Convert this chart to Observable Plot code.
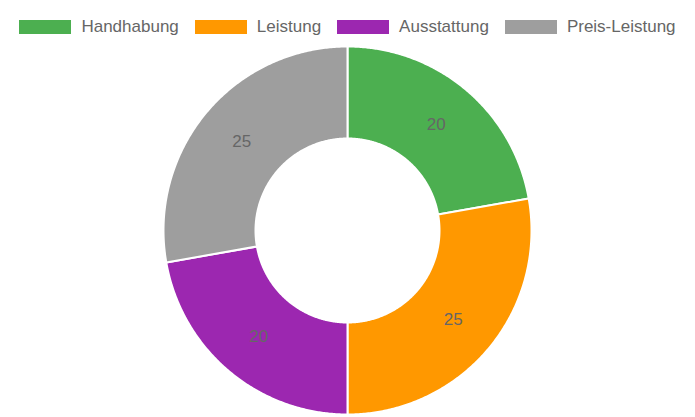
<!DOCTYPE html>
<html>
<head>
<meta charset="utf-8">
<script src="https://cdn.jsdelivr.net/npm/d3@7"></script>
<script src="https://cdn.jsdelivr.net/npm/@observablehq/plot@0.6"></script>
<style>
  html, body { margin: 0; padding: 0; background: #fff; }
  body { width: 695px; height: 417px; overflow: hidden; font-family: "Liberation Sans", Arial, sans-serif; }
  #legend { height: 40px; box-sizing: border-box; padding-top: 13px; display: flex; justify-content: center; align-items: center; }
  .item { display: flex; align-items: center; margin: 0 8px; color: #666; font-size: 17px; line-height: 18px; }
  .sw { width: 52px; height: 14px; margin-right: 10px; }
  #chart svg { display: block; }
</style>
</head>
<body>
<div id="legend"></div>
<div id="chart"></div>
<script>
const categories = ["Handhabung", "Leistung", "Ausstattung", "Preis-Leistung"];
const values = [20, 25, 20, 25];
const colors = ["#4caf50", "#ff9800", "#9c27b0", "#9e9e9e"];

const innerRatio = 0.5;

// legend
const legend = document.getElementById("legend");
categories.forEach((c, i) => {
  const it = document.createElement("div");
  it.className = "item";
  const sw = document.createElement("span");
  sw.className = "sw";
  sw.style.background = colors[i];
  const t = document.createElement("span");
  t.textContent = c;
  it.appendChild(sw); it.appendChild(t);
  legend.appendChild(it);
});

// slices from d3.pie
const pie = d3.pie().sort(null).value(d => d.value).startAngle(0).endAngle(2 * Math.PI);
const table = categories.map((k, i) => ({key: k, value: values[i]}));
const arcs = pie(table);

const outline = [];
const labels = [];
arcs.forEach(a => {
  const n = 200;
  for (let j = 0; j <= n; j++) {
    const t = a.startAngle + (a.endAngle - a.startAngle) * j / n;
    outline.push({key: a.data.key, x: Math.sin(t), y: Math.cos(t)});
  }
  for (let j = n; j >= 0; j--) {
    const t = a.startAngle + (a.endAngle - a.startAngle) * j / n;
    outline.push({key: a.data.key, x: innerRatio * Math.sin(t), y: innerRatio * Math.cos(t)});
  }
  const m = (a.startAngle + a.endAngle) / 2;
  const r = (1 + innerRatio) / 2;
  labels.push({key: a.data.key, value: a.data.value, x: r * Math.sin(m), y: r * Math.cos(m)});
});

const chart = Plot.plot({
  width: 695,
  height: 377,
  margin: 0,
  style: {background: "#fff", fontFamily: "Liberation Sans, Arial, sans-serif"},
  x: {domain: [-1, 1], range: [163, 531], axis: null},
  y: {domain: [-1, 1], range: [374, 6], axis: null},
  color: {domain: categories, range: colors},
  marks: [
    Plot.line(outline, {x: "x", y: "y", z: "key", fill: "key", stroke: "#fff", strokeWidth: 2, curve: "linear-closed"}),
    Plot.text(labels, {x: "x", y: "y", text: d => String(d.value), fill: "#666", fontSize: 17})
  ]
});
document.getElementById("chart").appendChild(chart);
</script>
</body>
</html>
